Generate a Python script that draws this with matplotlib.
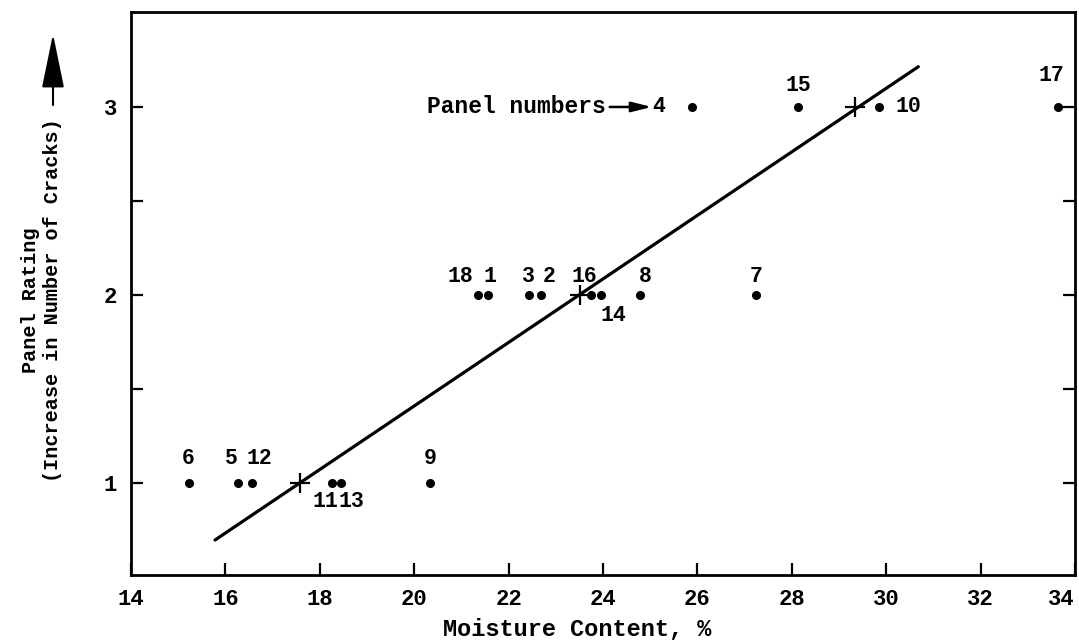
import matplotlib
matplotlib.use("Agg")
import matplotlib.pyplot as plt
from matplotlib.text import OffsetFrom
from matplotlib.patches import FancyArrowPatch

# ---- data ----
panel_ids = ["6", "5", "12", "11", "13", "9", "18", "1", "3", "2", "16", "14", "8", "7", "4", "15", "10", "17"]
moisture = [15.22, 16.27, 16.56, 18.25, 18.44, 20.33, 21.36, 21.56, 22.43, 22.68,
            23.75, 23.95, 24.78, 27.25, 25.88, 28.13, 29.85, 33.64]
rating = [1, 1, 1, 1, 1, 1, 2, 2, 2, 2, 2, 2, 2, 2, 3, 3, 3, 3]

mean_moisture = [17.57, 23.51, 29.34]
mean_rating = [1, 2, 3]

fit_x = [15.78, 30.68]
fit_y = [0.697, 3.214]

x_ticks = [14, 16, 18, 20, 22, 24, 26, 28, 30, 32, 34]
x_tick_labels = ["14", "16", "18", "20", "22", "24", "26", "28", "30", "32", "34"]
y_ticks = [1, 1.5, 2, 2.5, 3]
y_tick_labels = ["1", "", "2", "", "3"]

x_label = "Moisture Content, %"
y_label_1 = "Panel Rating"
y_label_2 = "(Increase in Number of Cracks)"
callout = "Panel numbers"

# label offsets in pixels (dx right, dy up) -- layout only
label_offsets_px = {
    "6": (0, 25), "5": (-7, 25), "12": (8, 25), "11": (-6, -18), "13": (11, -18),
    "9": (0, 25), "18": (-18, 19), "1": (2, 19), "3": (0, 19), "2": (8, 19),
    "16": (-7, 19), "14": (13, -20), "8": (5, 19), "7": (0, 19),
    "4": (-33, 0), "15": (0, 21), "10": (29, 0), "17": (-7, 31),
}

FONT = "Liberation Mono"
W, H = 1079, 642
fig = plt.figure(figsize=(W / 100, H / 100), dpi=100)
ax = fig.add_axes([131 / W, (H - 575) / H, 944 / W, 563 / H])

ax.plot(fit_x, fit_y, color="black", lw=2.3, solid_capstyle="round", zorder=2)
ax.plot(moisture, rating, "o", color="black", ms=5.5, zorder=3)
ax.plot(mean_moisture, mean_rating, "+", color="black", ms=15, mew=1.6, zorder=3)

px2pt = 72 / 100
for pid, mx, r in zip(panel_ids, moisture, rating):
    dx, dy = label_offsets_px[pid]
    ax.annotate(pid, (mx, r), xytext=(dx * px2pt, dy * px2pt), textcoords="offset points",
                ha="center", va="center", fontsize=15.5, family=FONT, fontweight="bold")

# "Panel numbers --> 4" callout
i4 = panel_ids.index("4")
ref = OffsetFrom(ax.transData, (moisture[i4], rating[i4]), unit="points")
ax.annotate(callout, xy=(-86 * px2pt, 0), xycoords=ref, ha="right", va="center",
            fontsize=16.5, family=FONT, fontweight="bold")
ax.annotate("", xy=(-40 * px2pt, 0), xycoords=ref, xytext=(-82 * px2pt, 0), textcoords=ref,
            arrowprops=dict(arrowstyle="-|>,head_length=1.2,head_width=0.3", color="black",
                            lw=1.8, shrinkA=0, shrinkB=0))

ax.set_xlim(14, 34)
ax.set_ylim(0.511, 3.505)
ax.set_xticks(x_ticks)
ax.set_xticklabels(x_tick_labels, family=FONT, fontsize=16, fontweight="bold")
ax.set_yticks(y_ticks)
ax.set_yticklabels(y_tick_labels, family=FONT, fontsize=16, fontweight="bold")
ax.tick_params(axis="both", direction="in", length=8.5, width=1.6, pad=10.0)
ax.tick_params(axis="y", right=True)
for s in ax.spines.values():
    s.set_linewidth(2.0)

# keep the last x tick label inside the figure edge
ax.get_xticklabels()[-1].set_horizontalalignment("right")

ax.set_xlabel(x_label, family=FONT, fontsize=17, fontweight="bold", va="center")
ax.xaxis.set_label_coords((577 - 131) / 944, (575 - 630) / 563)

fig.text(31 / W, (H - 300) / H, y_label_1, rotation=90, ha="center", va="center",
         family=FONT, fontsize=14.5, fontweight="bold")
fig.text(53 / W, (H - 300) / H, y_label_2, rotation=90, ha="center", va="center",
         family=FONT, fontsize=14.5, fontweight="bold")
fig.patches.append(FancyArrowPatch(
    (53, H - 105), (53, H - 34), transform=None,
    arrowstyle="-|>,head_length=34,head_width=7", color="black", lw=1.5,
    mutation_scale=1, shrinkA=0, shrinkB=0))

fig.savefig("out.png", dpi=100, facecolor="white")
